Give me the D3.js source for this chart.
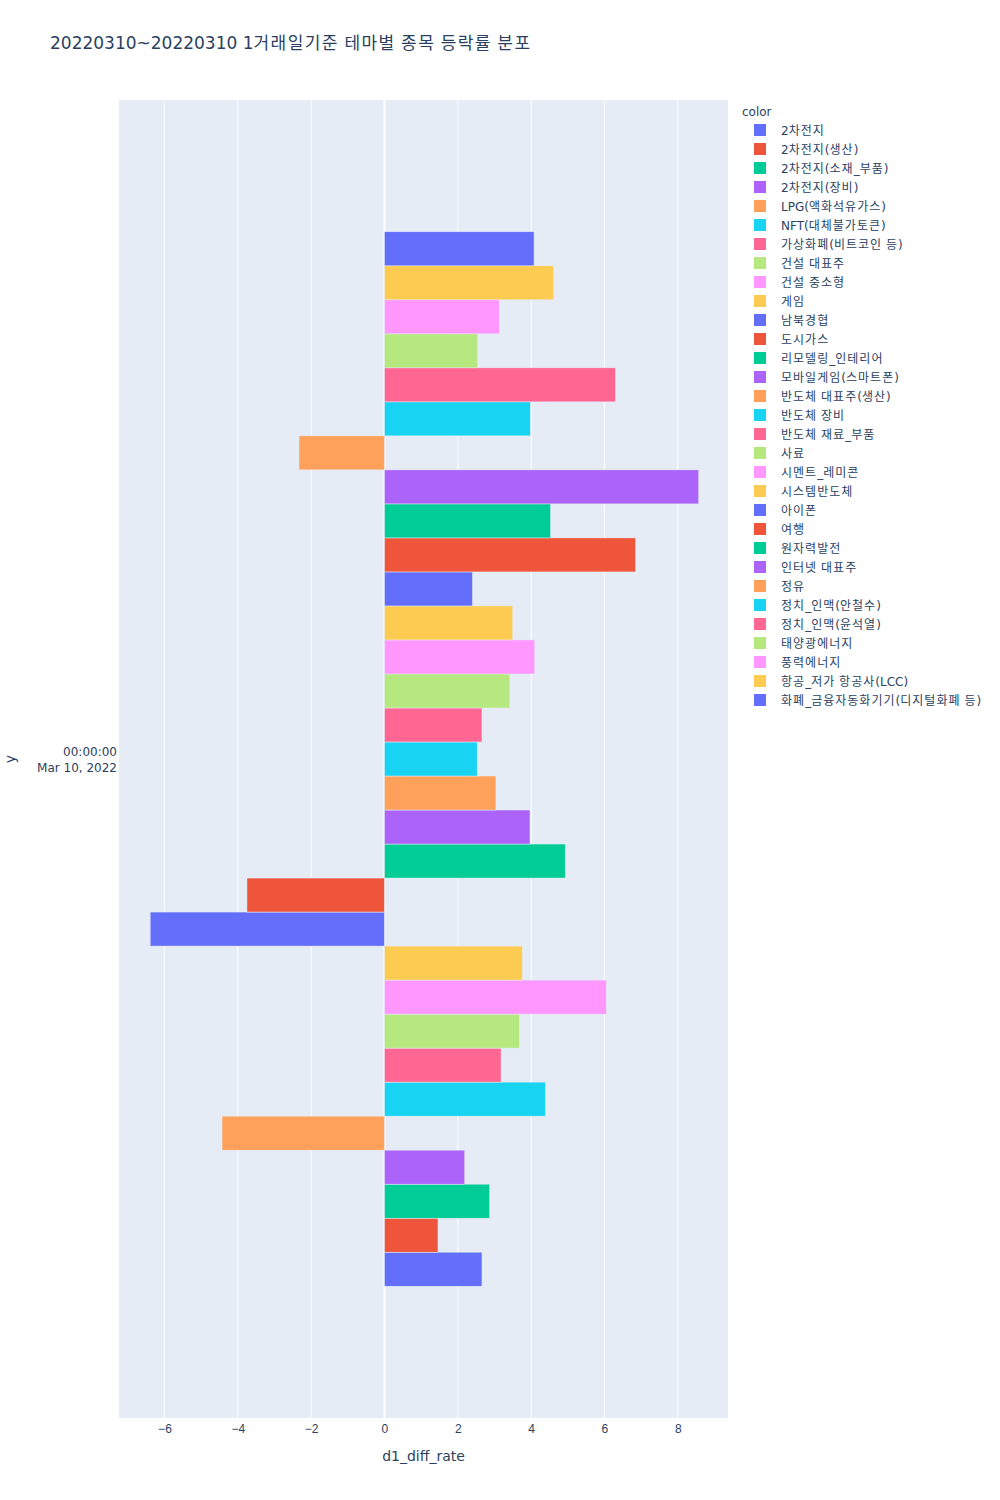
<!DOCTYPE html>
<html>
<head>
<meta charset="utf-8">
<script src="https://cdn.jsdelivr.net/npm/d3@7"></script>
<style>
  body { margin: 0; background: #fff; }
  svg { font-family: "DejaVu Sans", "Noto Sans CJK KR", sans-serif; }
</style>
</head>
<body>
<svg id="chart" width="1000" height="1500"></svg>
<script>
// ---- data ----
const titleText = "20220310~20220310 1거래일기준 테마별 종목 등락률 분포";
const dateLabel = ["00:00:00", "Mar 10, 2022"];
const themes = [
  "2차전지", "2차전지(생산)", "2차전지(소재_부품)", "2차전지(장비)", "LPG(액화석유가스)",
  "NFT(대체불가토큰)", "가상화폐(비트코인 등)", "건설 대표주", "건설 중소형", "게임",
  "남북경협", "도시가스", "리모델링_인테리어", "모바일게임(스마트폰)", "반도체 대표주(생산)",
  "반도체 장비", "반도체 재료_부품", "사료", "시멘트_레미콘", "시스템반도체",
  "아이폰", "여행", "원자력발전", "인터넷 대표주", "정유",
  "정치_인맥(안철수)", "정치_인맥(윤석열)", "태양광에너지", "풍력에너지", "항공_저가 항공사(LCC)",
  "화폐_금융자동화기기(디지털화폐 등)"
];
const rates = [
  2.66, 1.46, 2.87, 2.19, -4.43,
  4.39, 3.18, 3.68, 6.05, 3.76,
  -6.39, -3.75, 4.93, 3.97, 3.04,
  2.53, 2.66, 3.42, 4.10, 3.50,
  2.40, 6.85, 4.53, 8.57, -2.33,
  3.98, 6.30, 2.54, 3.13, 4.61,
  4.08
];
const palette = ["#636efa", "#EF553B", "#00cc96", "#ab63fa", "#FFA15A",
                 "#19d3f3", "#FF6692", "#B6E880", "#FF97FF", "#FECB52"];
const xTicks = [-6, -4, -2, 0, 2, 4, 6, 8];
const xDomain = [-7.24, 9.37];

// ---- layout ----
const svg = d3.select("#chart");
const L = 119, R = 728, T = 100, B = 1418;
const textColor = "#2a3f5f";

// write text with Hangul runs slightly tracked (wider Korean glyphs)
function richText(sel, str) {
  const runs = str.match(/[\uAC00-\uD7A3]+|[^\uAC00-\uD7A3]+/g) || [];
  runs.forEach(r => {
    const ts = sel.append("tspan").text(r);
    if (/[\uAC00-\uD7A3]/.test(r)) ts.attr("letter-spacing", "0.085em");
  });
}

const x = d3.scaleLinear().domain(xDomain).range([L, R]);
const yOuter = d3.scaleBand().domain(["2022-03-10"]).range([B, T]).paddingInner(0.2).paddingOuter(0.1);
const yInner = d3.scaleBand().domain(themes).range([yOuter.bandwidth(), 0]);
const color = d3.scaleOrdinal().domain(themes).range(palette);

// background
svg.append("rect").attr("x", L).attr("y", T).attr("width", R - L).attr("height", B - T).attr("fill", "#E5ECF6");

// grid
svg.append("g").selectAll("line").data(xTicks.filter(d => d !== 0)).join("line")
  .attr("x1", d => x(d)).attr("x2", d => x(d)).attr("y1", T).attr("y2", B)
  .attr("stroke", "#fff").attr("stroke-width", 1);

// zero line (below traces)
svg.append("line").attr("x1", x(0)).attr("x2", x(0)).attr("y1", T).attr("y2", B)
  .attr("stroke", "#fff").attr("stroke-width", 2);

// bars
const g = svg.append("g").attr("transform", `translate(0,${yOuter("2022-03-10")})`);
g.selectAll("rect").data(themes.map((t, i) => ({t, v: rates[i]}))).join("rect")
  .attr("x", d => x(Math.min(0, d.v)))
  .attr("width", d => Math.abs(x(d.v) - x(0)))
  .attr("y", d => yInner(d.t))
  .attr("height", yInner.bandwidth())
  .attr("fill", d => color(d.t))
  .attr("stroke", "#E5ECF6").attr("stroke-width", 0.5);

// x axis
const xAxis = svg.append("g").attr("transform", `translate(0,${B})`)
  .call(d3.axisBottom(x).tickValues(xTicks).tickSize(0).tickPadding(6)
    .tickFormat(d => d < 0 ? "\u2212" + Math.abs(d) : String(d)));
xAxis.select(".domain").remove();
xAxis.selectAll("text").attr("fill", textColor).attr("font-size", 12);

// y tick label
const yl = svg.append("text").attr("x", 117).attr("text-anchor", "end")
  .attr("fill", textColor).attr("font-size", 12);
yl.append("tspan").attr("x", 117).attr("y", 756).text(dateLabel[0]);
yl.append("tspan").attr("x", 117).attr("y", 772).text(dateLabel[1]);

// axis titles
svg.append("text").attr("x", (L + R) / 2).attr("y", 1461).attr("text-anchor", "middle")
  .attr("fill", textColor).attr("font-size", 14).text("d1_diff_rate");
svg.append("text").attr("transform", "translate(15,759) rotate(-90)").attr("text-anchor", "middle")
  .attr("fill", textColor).attr("font-size", 14).text("y");

// title
const tt = svg.append("text").attr("x", 50).attr("y", 49).attr("fill", textColor).attr("font-size", 17);
richText(tt, titleText);

// legend
const lg = svg.append("g");
lg.append("text").attr("x", 742).attr("y", 116).attr("fill", textColor).attr("font-size", 12).text("color");
const items = lg.selectAll("g.item").data(themes).join("g").attr("class", "item")
  .attr("transform", (d, i) => `translate(0,${130 + i * 19})`);
items.append("rect").attr("x", 754).attr("y", -6).attr("width", 12).attr("height", 12)
  .attr("fill", d => color(d));
items.append("text").attr("x", 781).attr("y", 4.5).attr("fill", textColor).attr("font-size", 12)
  .each(function(d) { richText(d3.select(this), d); });
</script>
</body>
</html>
